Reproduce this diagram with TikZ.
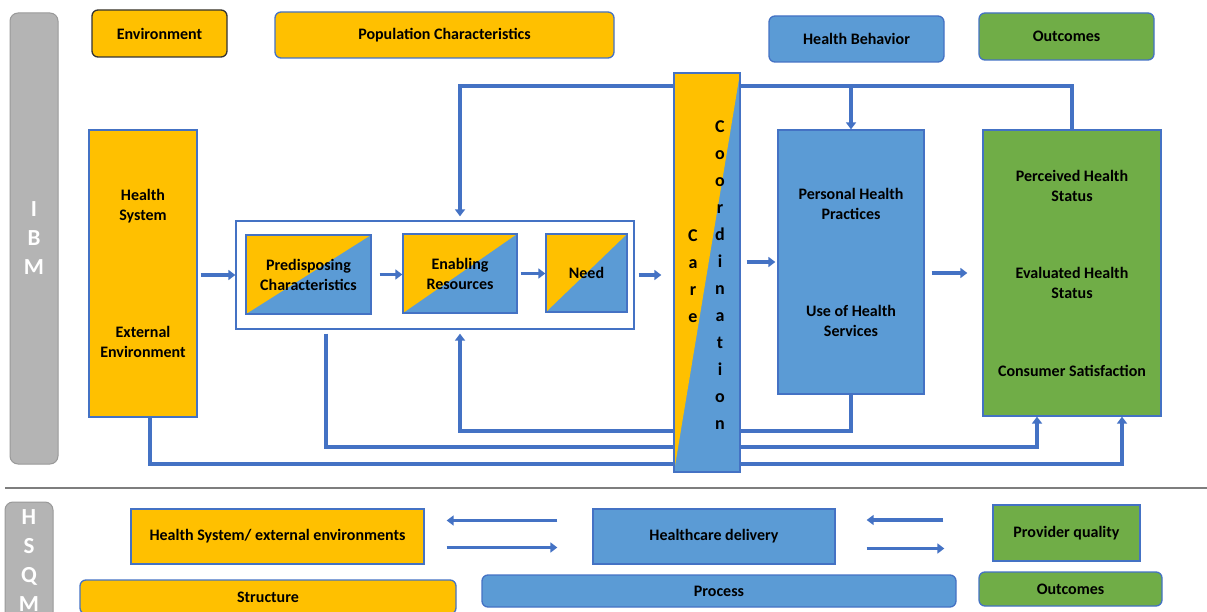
\documentclass[tikz,border=0pt]{standalone}
\usepackage{fontspec}
\setmainfont{Carlito}
\usepackage{tikz}
\usetikzlibrary{arrows.meta}
\usetikzlibrary{backgrounds}

\definecolor{ibmyellow}{HTML}{FFC000}
\definecolor{ibmblue}{HTML}{5B9BD5}
\definecolor{ibmgreen}{HTML}{70AD47}
\definecolor{edgeblue}{HTML}{4472C4}
\definecolor{bargray}{HTML}{B4B4B4}

\tikzset{
    box/.style = {draw = edgeblue, line width = 1.3pt, inner sep = 0,
        font = \fontsize{16}{20}\selectfont\bfseries, align = center},
    tag/.style = {box, rounded corners = 6pt},
    splitbox/.style = {box, fill = ibmblue, path picture = {
        \fill[ibmyellow] (path picture bounding box.north west)
            -- (path picture bounding box.north east)
            -- (path picture bounding box.south west) -- cycle;}},
    label/.style = {font = \fontsize{16}{20}\selectfont\bfseries, align = center},
    flow/.style = {draw = edgeblue, line width = 3.2pt,
        -{Triangle[length = 7pt, width = 10pt]}},
    sidebar/.style = {draw = bargray!85!black, fill = bargray, line width = 1pt,
        rounded corners = 8pt, inner sep = 0},
    letters/.style = {text = white, font = \fontsize{23}{29}\selectfont\bfseries, align = center},
}

\begin{document}
\begin{tikzpicture}[x = 1pt, y = -1pt]
    \useasboundingbox (0, 0) rectangle (1207, 612);

    %% side bars
    \node[sidebar, minimum width = 48pt, minimum height = 451pt] (ibm) at (34, 238.5) {};
    \node[letters] at (ibm) {I\\B\\M};
    \node[sidebar, minimum width = 48pt, minimum height = 118pt] (hsqm) at (29, 561) {};
    \node[letters] at (hsqm) {H\\S\\Q\\M};
    \draw[bargray!70!black, line width = 1.2pt] (5, 488) -- (1207, 488);

    %% legend
    \node[tag, draw = black!80, fill = ibmyellow, minimum width = 135pt, minimum height = 47pt]
        (env) at (159.5, 33.5) {Environment};
    \node[tag, fill = ibmyellow, minimum width = 339pt, minimum height = 46pt]
        (popchar) at (444.5, 35) {Population Characteristics};
    \node[tag, fill = ibmblue, minimum width = 175pt, minimum height = 46pt]
        (behav) at (856.5, 39) {Health Behavior};
    \node[tag, fill = ibmgreen, minimum width = 175pt, minimum height = 47pt]
        (outtag) at (1066.5, 36.5) {Outcomes};

    %% environment
    \node[box, fill = ibmyellow, minimum width = 108pt, minimum height = 287pt] (hs) at (143, 273.5) {};
    \node[label] at (143, 206) {Health\\System};
    \node[label] at (143, 342) {External\\Environment};

    %% population characteristics
    \node[box, fill = white, minimum width = 398pt, minimum height = 108pt] (grp) at (435, 275) {};
    \node[splitbox, minimum width = 125pt, minimum height = 79pt] (pred) at (308.5, 274.5)
        {Predisposing\\Characteristics};
    \node[splitbox, minimum width = 114pt, minimum height = 79pt] (enab) at (460, 273.5)
        {Enabling\\Resources};
    \node[splitbox, minimum width = 81pt, minimum height = 78pt] (need) at (586.5, 273) {Need};

    %% care coordination
    \node[splitbox, minimum width = 66pt, minimum height = 399pt] (care) at (707, 272.5) {};
    \node[label, font = \fontsize{18}{27}\selectfont\bfseries] at (693, 276) {C\\a\\r\\e};
    \node[label, font = \fontsize{18}{27}\selectfont\bfseries] at (720, 275)
        {C\\o\\o\\r\\d\\i\\n\\a\\t\\i\\o\\n};

    %% health behavior
    \node[box, fill = ibmblue, minimum width = 146pt, minimum height = 264pt] (ph) at (851, 262) {};
    \node[label] at (851, 204) {Personal Health\\Practices};
    \node[label] at (851, 321) {Use of Health\\Services};

    %% outcomes
    \node[box, fill = ibmgreen, minimum width = 178pt, minimum height = 286pt] (out) at (1072, 273) {};
    \node[label] at (1072, 186) {Perceived Health\\Status};
    \node[label] at (1072, 283) {Evaluated Health\\Status};
    \node[label] at (1072, 371) {Consumer Satisfaction};

    %% forward arrows
    \draw[flow, shorten <= 3pt] (hs.east |- grp.west) -- (grp.west);
    \draw[flow, shorten <= 8pt] (pred.east) -- (pred.east -| enab.west);
    \draw[flow, shorten <= 3pt] (enab.east) -- (enab.east -| need.west);
    \draw[flow, shorten <= 4pt, shorten >= 12pt] (grp.east) -- (grp.east -| care.west);
    \draw[flow, shorten <= 6pt, shorten >= 2pt] (care.east |- ph.west) -- (ph.west);
    \draw[flow, shorten <= 7pt, shorten >= 15pt] (ph.east |- out.west) -- (out.west);

    %% feedback loops, behind care coordination
    \begin{pgfonlayer}{background}
        \coordinate (fbtop) at (0, 86);
        \coordinate (fbmid) at (0, 431);
        \coordinate (fblow) at (0, 447);
        \coordinate (fbbase) at (0, 464);
        \coordinate (fbsplit) at ([xshift = 17.5pt]pred.south |- grp.south);
        \coordinate (fbenv) at ([xshift = 7pt]hs.south);
        \draw[flow, shorten >= 4pt] (out.north) -- (out.north |- fbtop) -| (enab |- grp.north);
        \draw[flow] (ph.north |- fbtop) -- (ph.north);
        \draw[flow, shorten >= 4pt] (ph.south) -- (ph.south |- fbmid) -| (enab |- grp.south);
        \draw[flow, shorten <= 4pt] (fbsplit) -- (fbsplit |- fblow) -| ([xshift = -35pt]out.south);
        \draw[flow] (fbenv) -- (fbenv |- fbbase) -| ([xshift = 50pt]out.south);
    \end{pgfonlayer}

    %% quality model
    \node[box, fill = ibmyellow, minimum width = 293pt, minimum height = 55pt]
        (hsext) at (277.5, 536.5) {Health System/ external environments};
    \node[box, fill = ibmblue, minimum width = 242pt, minimum height = 55pt]
        (hd) at (714, 536.5) {Healthcare delivery};
    \node[box, fill = ibmgreen, minimum width = 147pt, minimum height = 56pt]
        (pq) at (1066.5, 533) {Provider quality};
    \node[tag, fill = ibmyellow, minimum width = 376pt, minimum height = 34pt]
        (struct) at (268, 597) {Structure};
    \node[tag, fill = ibmblue, minimum width = 474pt, minimum height = 32pt]
        (proc) at (719, 591) {Process};
    \node[tag, fill = ibmgreen, minimum width = 183pt, minimum height = 34pt]
        (outtag2) at (1070.5, 589) {Outcomes};

    \draw[flow, shorten <= 35pt, shorten >= 22pt] ([yshift = 16pt]hd.west) -- ([yshift = 16pt]hd.west -| hsext.east);
    \draw[flow, shorten <= 22pt, shorten >= 35pt] ([yshift = -11pt]hsext.east) -- ([yshift = -11pt]hsext.east -| hd.west);
    \draw[flow, shorten <= 49pt, shorten >= 31pt] ([yshift = 13pt]pq.west) -- ([yshift = 13pt]pq.west -| hd.east);
    \draw[flow, shorten <= 31pt, shorten >= 48pt] ([yshift = -12pt]hd.east) -- ([yshift = -12pt]hd.east -| pq.west);
\end{tikzpicture}
\end{document}
